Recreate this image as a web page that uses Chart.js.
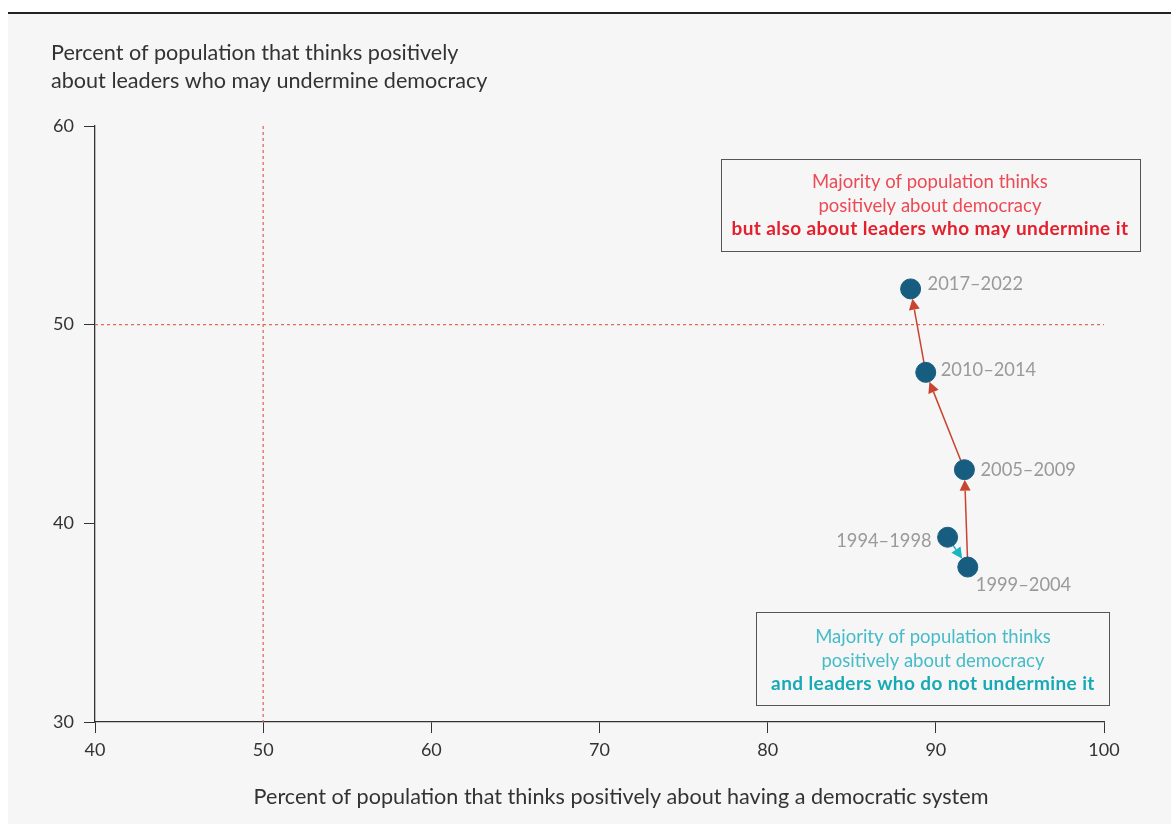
<!DOCTYPE html>
<html lang="en">
<head>
<meta charset="UTF-8">
<title>Support for democracy and for leaders who may undermine it</title>
<script src="https://cdn.jsdelivr.net/npm/chart.js"></script>
<style>
    html, body { margin: 0; padding: 0; background: #ffffff; }
    .panel {
        position: absolute;
        left: 8px; top: 12px;
        width: 1163px; height: 812px;
        background: #f6f6f6;
        border-top: 2px solid #222;
        box-sizing: border-box;
    }
    .chart-wrap {
        position: absolute;
        left: 0; top: 0;
        width: 1171px; height: 824px;
    }
</style>
</head>
<body>
<div class="panel"></div>
<div class="chart-wrap"><canvas id="scatter"></canvas></div>
<script>
// data
const periods = ['1994\u20131998', '1999\u20132004', '2005\u20132009', '2010\u20132014', '2017\u20132022'];
const democracySupport = [90.7, 91.9, 91.7, 89.4, 88.5];   // x
const leaderSupport = [39.3, 37.8, 42.7, 47.6, 51.8];      // y
const xTicks = [40, 50, 60, 70, 80, 90, 100];
const yTicks = [30, 40, 50, 60];
const yTitle = ['Percent of population that thinks positively', 'about leaders who may undermine democracy'];
const xTitle = 'Percent of population that thinks positively about having a democratic system';
const topNote = ['Majority of population thinks', 'positively about democracy', 'but also about leaders who may undermine it'];
const bottomNote = ['Majority of population thinks', 'positively about democracy', 'and leaders who do not undermine it'];
const threshold = 50;

// styles
const FONT = 'Lato, "Open Sans", sans-serif';
const markerColor = '#175d80';
const red = '#c9432f';
const teal = '#1ab3c1';
// label offsets relative to marker (px), align
const labelPlace = [
    { dx: -16, dy: 4, align: 'right' },
    { dx: 8, dy: 18, align: 'left' },
    { dx: 16, dy: 0, align: 'left' },
    { dx: 15, dy: -2, align: 'left' },
    { dx: 17, dy: -5, align: 'left' }
];

const points = democracySupport.map((x, i) => ({ x: x, y: leaderSupport[i] }));

function drawArrow(ctx, x1, y1, x2, y2, color, r) {
    const ang = Math.atan2(y2 - y1, x2 - x1);
    const tipX = x2 - Math.cos(ang) * r;
    const tipY = y2 - Math.sin(ang) * r;
    const len = 11, half = 5.5;
    const bx = tipX - Math.cos(ang) * len;
    const by = tipY - Math.sin(ang) * len;
    ctx.save();
    ctx.strokeStyle = color;
    ctx.fillStyle = color;
    ctx.lineWidth = 1.5;
    ctx.beginPath();
    ctx.moveTo(x1, y1);
    ctx.lineTo(bx, by);
    ctx.stroke();
    ctx.beginPath();
    ctx.moveTo(tipX, tipY);
    ctx.lineTo(bx - Math.sin(ang) * half, by + Math.cos(ang) * half);
    ctx.lineTo(bx + Math.sin(ang) * half, by - Math.cos(ang) * half);
    ctx.closePath();
    ctx.fill();
    ctx.restore();
}

function drawNote(ctx, xs, ys, box, lines, c1, c2, firstLine) {
    const l = xs.getPixelForValue(box[0]), r = xs.getPixelForValue(box[1]);
    const t = ys.getPixelForValue(box[2]), b = ys.getPixelForValue(box[3]);
    ctx.save();
    ctx.strokeStyle = '#555';
    ctx.lineWidth = 1;
    ctx.strokeRect(Math.round(l) + 0.5, Math.round(t) + 0.5, Math.round(r - l), Math.round(b - t));
    const cx = (l + r) / 2;
    ctx.textAlign = 'center';
    ctx.textBaseline = 'middle';
    lines.forEach((line, i) => {
        const bold = i === lines.length - 1;
        ctx.font = bold ? 'bold 19px ' + FONT : '18.5px ' + FONT;
        ctx.letterSpacing = bold ? '0.4px' : '0px';
        ctx.fillStyle = bold ? c2 : c1;
        ctx.fillText(line, cx, t + firstLine + i * 23.5);
    });
    ctx.restore();
}

const decorations = {
    id: 'decorations',
    beforeDatasetsDraw(chart) {
        const ctx = chart.ctx;
        const xs = chart.scales.x, ys = chart.scales.y;
        // 50% reference lines
        ctx.save();
        ctx.strokeStyle = '#e06a5a';
        ctx.lineWidth = 1.3;
        ctx.setLineDash([3, 3]);
        const vx = xs.getPixelForValue(threshold);
        ctx.beginPath();
        ctx.moveTo(vx, ys.getPixelForValue(60));
        ctx.lineTo(vx, ys.getPixelForValue(30));
        const hy = ys.getPixelForValue(threshold);
        ctx.moveTo(xs.getPixelForValue(40), hy);
        ctx.lineTo(xs.getPixelForValue(100), hy);
        ctx.stroke();
        ctx.restore();

        // quadrant notes
        drawNote(ctx, xs, ys, [77.2, 102.1, 58.33, 53.68], topNote, '#ec4a55', '#e4202c', 23);
        drawNote(ctx, xs, ys, [79.33, 100.33, 35.55, 30.89], bottomNote, '#45bcc7', '#17a9b5', 25.5);

        // arrows between consecutive periods
        for (let i = 0; i < points.length - 1; i++) {
            const x1 = xs.getPixelForValue(points[i].x), y1 = ys.getPixelForValue(points[i].y);
            const x2 = xs.getPixelForValue(points[i + 1].x), y2 = ys.getPixelForValue(points[i + 1].y);
            drawArrow(ctx, x1, y1, x2, y2, i === 0 ? teal : red, 10);
        }
    },
    afterDatasetsDraw(chart) {
        const ctx = chart.ctx;
        const xs = chart.scales.x, ys = chart.scales.y;
        ctx.save();
        ctx.font = '18.3px ' + FONT;
        ctx.fillStyle = '#9a9a9a';
        ctx.textBaseline = 'middle';
        points.forEach((p, i) => {
            const pl = labelPlace[i];
            ctx.textAlign = pl.align;
            ctx.fillText(periods[i], xs.getPixelForValue(p.x) + pl.dx, ys.getPixelForValue(p.y) + pl.dy);
        });

        // axis titles
        ctx.fillStyle = '#333';
        ctx.font = '21.6px ' + FONT;
        ctx.textAlign = 'left';
        ctx.fillText(yTitle[0], 51, 53);
        ctx.fillText(yTitle[1], 51, 81);
        ctx.textAlign = 'center';
        ctx.fillText(xTitle, 621, 797);
        ctx.restore();
    }
};

new Chart(document.getElementById('scatter'), {
    type: 'scatter',
    data: {
        datasets: [{
            data: points,
            backgroundColor: markerColor,
            borderColor: markerColor,
            pointRadius: 10,
            pointHoverRadius: 10,
            clip: false
        }]
    },
    options: {
        responsive: true,
        maintainAspectRatio: false,
        animation: false,
        layout: { padding: { top: 126, right: 67, left: 0, bottom: 0 } },
        plugins: {
            legend: { display: false },
            tooltip: { enabled: false }
        },
        scales: {
            x: {
                type: 'linear',
                min: xTicks[0],
                max: xTicks[xTicks.length - 1],
                afterBuildTicks: s => { s.ticks = xTicks.map(v => ({ value: v })); },
                afterFit: s => { s.height = 102; },
                grid: { drawOnChartArea: false, tickLength: 11, color: '#333', lineWidth: 1 },
                border: { color: '#333', width: 1.3 },
                ticks: { color: '#333', font: { family: FONT, size: 18 }, padding: 6 }
            },
            y: {
                type: 'linear',
                min: yTicks[0],
                max: yTicks[yTicks.length - 1],
                afterBuildTicks: s => { s.ticks = yTicks.map(v => ({ value: v })); },
                afterFit: s => { s.width = 95; },
                grid: { drawOnChartArea: false, tickLength: 11, color: '#333', lineWidth: 1 },
                border: { color: '#333', width: 1.3 },
                ticks: { color: '#333', font: { family: FONT, size: 18 }, padding: 10 }
            }
        }
    },
    plugins: [decorations]
});
</script>
</body>
</html>
